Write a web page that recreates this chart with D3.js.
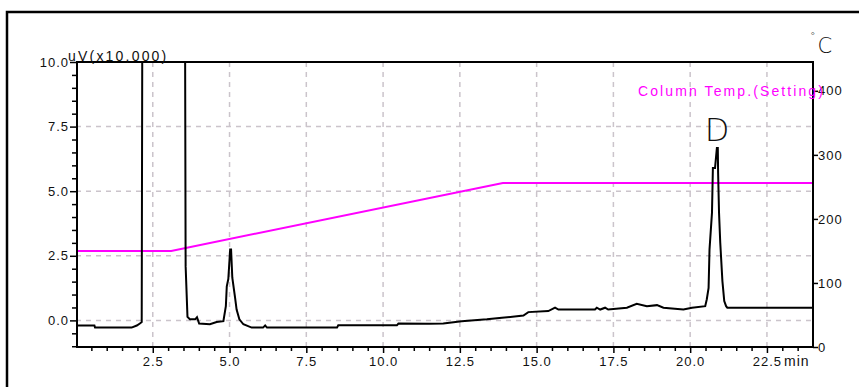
<!DOCTYPE html>
<html>
<head>
<meta charset="utf-8">
<script src="https://cdn.jsdelivr.net/npm/d3@7"></script>
<style>
  body { margin: 0; background: #fff; }
  svg { display: block; }
  text { font-family: Arial, "Liberation Sans", sans-serif; }
</style>
</head>
<body>
<div id="chart"></div>
<script>
// detector signal, uV (x10,000) vs retention time (min)
var signal_time = [0.03, 0.6, 0.62, 1.81, 1.98, 2.08, 2.14, 2.16, 3.55, 3.57, 3.63, 3.71, 3.88, 3.94, 4.01, 4.36, 4.58, 4.80, 4.88, 4.91, 4.96, 5.02, 5.05, 5.09, 5.18, 5.23, 5.32, 5.45, 5.72, 6.09, 6.16, 6.22, 8.50, 8.54, 10.45, 10.50, 11.5, 11.96, 12.56, 13.38, 13.87, 14.57, 14.73, 15.38, 15.60, 15.71, 16.90, 16.96, 17.07, 17.23, 17.33, 17.94, 18.26, 18.59, 18.92, 19.13, 19.78, 20.06, 20.49, 20.54, 20.60, 20.63, 20.71, 20.74, 20.81, 20.87, 20.90, 20.91, 20.94, 20.98, 21.05, 21.11, 21.17, 21.21, 24.0]
var signal_value = [-0.2, -0.2, -0.28, -0.28, -0.2, -0.12, -0.06, 12, 12, 2.1, 0.14, 0.04, 0.04, 0.12, -0.12, -0.15, -0.06, -0.03, 0.55, 1.32, 1.6, 2.74, 2.74, 1.65, 0.88, 0.42, 0.04, -0.15, -0.28, -0.28, -0.2, -0.28, -0.28, -0.19, -0.19, -0.12, -0.13, -0.12, -0.03, 0.04, 0.1, 0.19, 0.32, 0.36, 0.49, 0.42, 0.42, 0.49, 0.42, 0.49, 0.42, 0.49, 0.64, 0.55, 0.59, 0.49, 0.42, 0.49, 0.55, 0.81, 1.26, 2.74, 4.16, 5.9, 5.9, 6.67, 6.67, 5.7, 4.16, 3.0, 1.52, 0.75, 0.55, 0.49, 0.49]

// column temperature program (setting), degrees C
var temp_time = [0, 3.1, 13.9, 24]
var temp_value = [150, 150, 256, 256]

var x_ticks = [2.5, 5.0, 7.5, 10.0, 12.5, 15.0, 17.5, 20.0, 22.5]
var y_ticks = [0.0, 2.5, 5.0, 7.5, 10.0]
var temp_ticks = [0, 100, 200, 300, 400]

var peak_label = {name: "D", time: 20.88, value: 6.67}

var svg = d3.select("#chart").append("svg")
    .attr("width", 859)
    .attr("height", 387)

var plot_l = 76, plot_r = 813, plot_t = 62, plot_b = 347

var x = d3.scaleLinear().domain([0, 24]).range([plot_l, plot_r])
var y = d3.scaleLinear().domain([-1.03, 10]).range([plot_b, plot_t])
var yT = d3.scaleLinear().domain([0, 445]).range([plot_b, plot_t])

// outer frame
svg.append("path")
    .attr("d", "M7,400V12H870")
    .attr("fill", "none")
    .attr("stroke", "#000")
    .attr("stroke-width", 2.5)

// dashed grid
var grid_color = "#cbc4cb"
svg.append("g").selectAll("line.vg")
  .data(x_ticks)
  .enter().append("line")
    .attr("x1", function(d){ return x(d) }).attr("x2", function(d){ return x(d) })
    .attr("y1", plot_t).attr("y2", plot_b)
    .attr("stroke", grid_color).attr("stroke-width", 1.5)
    .attr("stroke-dasharray", "5,5")
svg.append("g").selectAll("line.hg")
  .data(y_ticks.filter(function(d){ return d < 10 }))
  .enter().append("line")
    .attr("x1", plot_l).attr("x2", plot_r)
    .attr("y1", function(d){ return y(d) }).attr("y2", function(d){ return y(d) })
    .attr("stroke", grid_color).attr("stroke-width", 1.5)
    .attr("stroke-dasharray", "5,5")

// clip for traces
svg.append("defs").append("clipPath").attr("id", "clip")
  .append("rect").attr("x", plot_l).attr("y", plot_t).attr("width", plot_r - plot_l).attr("height", plot_b - plot_t)

var plot = svg.append("g").attr("clip-path", "url(#clip)")

var temp_line = d3.line()
    .x(function(d, i){ return x(temp_time[i]) })
    .y(function(d){ return yT(d) })
plot.append("path").datum(temp_value)
    .attr("d", temp_line)
    .attr("fill", "none")
    .attr("stroke", "#ff00ff")
    .attr("stroke-width", 2)

var sig_line = d3.line()
    .x(function(d, i){ return x(signal_time[i]) })
    .y(function(d){ return y(d) })
plot.append("path").datum(signal_value)
    .attr("d", sig_line)
    .attr("fill", "none")
    .attr("stroke", "#000")
    .attr("stroke-width", 2)
    .attr("stroke-linejoin", "miter")

// axes
var tick_font = function(g){
  g.select(".domain").remove()
  g.selectAll("text")
    .style("font-family", "Arial, 'Liberation Sans', sans-serif")
    .style("font-size", "13px")
    .style("letter-spacing", "1px")
    .attr("fill", "#111")
  g.selectAll("line").attr("stroke", "#000").attr("stroke-width", 1.5)
}

var minor_x = d3.range(0.5, 24, 0.5).filter(function(d){ return d % 2.5 !== 0 })
svg.append("g").attr("transform", "translate(0," + plot_b + ")")
  .call(d3.axisBottom(x).tickValues(minor_x).tickSize(4).tickFormat(""))
  .call(tick_font)
svg.append("g").attr("transform", "translate(0," + plot_b + ")")
  .call(d3.axisBottom(x).tickValues(x_ticks).tickSize(6).tickPadding(4).tickFormat(d3.format(".1f")))
  .call(tick_font)

var minor_y = d3.range(-1, 10, 0.5).filter(function(d){ return d % 2.5 !== 0 })
svg.append("g").attr("transform", "translate(" + (plot_l + 1) + ",0)")
  .call(d3.axisLeft(y).tickValues(minor_y).tickSize(5).tickFormat(""))
  .call(tick_font)
svg.append("g").attr("transform", "translate(" + (plot_l + 1) + ",0)")
  .call(d3.axisLeft(y).tickValues(y_ticks).tickSize(7).tickPadding(1).tickFormat(d3.format(".1f")))
  .call(tick_font)

svg.append("g").attr("transform", "translate(" + plot_r + ",0)")
  .call(d3.axisRight(yT).tickValues(temp_ticks).tickSize(5).tickPadding(0))
  .call(tick_font)

// plot box
svg.append("rect")
    .attr("x", plot_l + 1).attr("y", plot_t)
    .attr("width", plot_r - plot_l - 1).attr("height", plot_b - plot_t)
    .attr("fill", "none")
    .attr("stroke", "#000")
    .attr("stroke-width", 2)

// labels
svg.append("text")
    .attr("x", 68).attr("y", 61)
    .style("font-size", "14px").style("letter-spacing", "2.2px")
    .attr("fill", "#111")
    .text("uV(x10,000)")

svg.append("text")
    .attr("x", 784).attr("y", 366)
    .style("font-size", "14px").style("letter-spacing", "1px")
    .attr("fill", "#111")
    .text("min")

svg.append("text")
    .attr("x", 638).attr("y", 96)
    .style("font-size", "14px").style("letter-spacing", "2.1px")
    .attr("fill", "#ff00ff")
    .text("Column Temp.(Setting)")

var unit = svg.append("text").attr("x", 810).attr("y", 53).attr("fill", "#111")
    .style("font-family", "'DejaVu Sans', sans-serif").style("font-weight", 200)
unit.append("tspan").attr("dy", -13).style("font-size", "11px").text("°")
unit.append("tspan").attr("dy", 13).attr("dx", 2).style("font-size", "21px").text("C")

svg.append("text")
    .attr("x", x(peak_label.time)).attr("y", y(peak_label.value) - 7)
    .attr("text-anchor", "middle")
    .style("font-family", "'DejaVu Sans', sans-serif").style("font-weight", 200)
    .style("font-size", "32px")
    .attr("fill", "#111")
    .text(peak_label.name)
</script>
</body>
</html>
